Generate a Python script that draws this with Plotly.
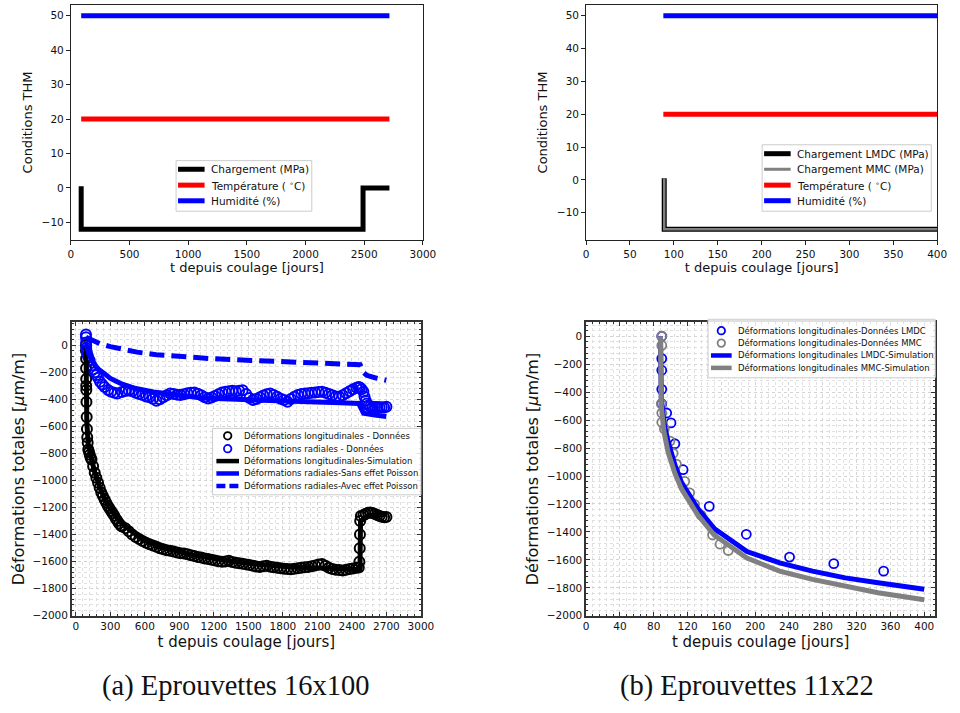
import plotly.graph_objects as go

# ---------------- (a) Eprouvettes 16x100 : THM conditions ----------------
t_load_a = [88, 88, 2490, 2490, 2715]
load_a = [0.5, -12, -12, 0, 0]
t_env_a = [88, 2715]
temp_a = [20, 20]
hum_a = [50, 50]

# ---------------- (b) Eprouvettes 11x22 : THM conditions ----------------
t_load_b = [89, 89, 400]
load_lmdc_b = [0.5, -15, -15]
load_mmc_b = [0.5, -15, -15]
t_env_b = [88, 400]
temp_b = [20, 20]
hum_b = [50, 50]

# ---------------- (a) deformations ----------------
t_long_data_a = [88, 88, 89, 89, 90, 90, 91, 92, 94, 96, 99, 103, 108, 114, 121, 128, 136,
                 150, 164, 178, 193, 207, 221, 235, 250, 264, 278, 292, 306, 320, 334, 348, 362,
                 376, 391,
                 400, 430, 460, 490, 520, 550, 580, 610, 640, 670, 700, 730, 760, 790, 820, 850,
                 880, 910, 940, 970, 1000, 1030, 1060, 1090, 1120, 1150, 1180, 1210, 1240, 1270,
                 1300, 1330, 1360, 1390, 1420, 1450, 1480, 1510, 1540, 1570, 1600, 1630, 1660,
                 1690, 1720, 1750, 1780, 1810, 1840, 1870, 1900, 1930, 1960, 1990, 2020, 2050,
                 2080, 2110, 2140, 2170, 2200, 2230, 2260, 2290, 2320, 2350, 2380, 2410, 2440,
                 2460, 2465, 2468, 2470, 2472, 2478, 2500, 2520, 2540, 2560, 2580, 2600, 2620,
                 2640, 2660, 2680, 2700]
v_long_data_a = [0, -40, -100, -170, -250, -300, -330, -420, -530, -620, -680, -720, -770, -790,
                 -810, -830, -845, -895, -943, -980, -1016, -1053, -1089, -1115, -1140, -1165,
                 -1187, -1205, -1225, -1242, -1260, -1282, -1300, -1318, -1333,
                 -1340, -1352, -1375, -1400, -1418, -1432, -1448, -1460, -1472, -1480, -1490,
                 -1500, -1508, -1515, -1520, -1525, -1532, -1538, -1540, -1546, -1552, -1558,
                 -1565, -1570, -1576, -1580, -1586, -1592, -1596, -1600, -1598, -1594, -1602,
                 -1608, -1612, -1616, -1620, -1624, -1630, -1636, -1640, -1634, -1630, -1638,
                 -1642, -1645, -1648, -1652, -1655, -1656, -1652, -1648, -1645, -1642, -1640,
                 -1634, -1628, -1620, -1618, -1630, -1645, -1655, -1660, -1662, -1665, -1660,
                 -1655, -1650, -1645, -1643, -1600, -1500, -1400, -1300, -1262, -1255, -1245,
                 -1238, -1236, -1240, -1248, -1255, -1262, -1268, -1272, -1270]

t_rad_data_a = [88, 88, 89, 90, 95, 105, 120, 136, 150, 165, 180, 193, 210, 230, 249, 280, 306,
                335, 362,
                400, 430, 460, 490, 520, 550, 580, 610, 640, 670, 700, 730, 760, 790, 820, 850,
                880, 910, 940, 970, 1000, 1030, 1060, 1090, 1120, 1150, 1180, 1210, 1240, 1270,
                1300, 1330, 1360, 1390, 1420, 1450, 1480, 1510, 1540, 1570, 1600, 1630, 1660,
                1690, 1720, 1750, 1780, 1810, 1840, 1870, 1900, 1930, 1960, 1990, 2020, 2050,
                2080, 2110, 2140, 2170, 2200, 2230, 2260, 2290, 2320, 2350, 2380, 2410, 2440,
                2458, 2470, 2485, 2500, 2510, 2520, 2530, 2545, 2560, 2580, 2600, 2620, 2640,
                2660, 2680, 2700]
v_rad_data_a = [80, 60, 20, -20, -50, -80, -110, -150, -180, -200, -220, -240, -270, -290, -308,
                -330, -344, -352, -356,
                -345, -338, -335, -340, -352, -360, -368, -378, -385, -395, -410, -400, -385,
                -370, -356, -360, -365, -368, -362, -355, -352, -349, -358, -370, -385, -393,
                -386, -375, -362, -350, -344, -340, -337, -340, -336, -332, -360, -390, -405,
                -398, -385, -372, -362, -356, -368, -380, -395, -405, -417, -398, -380, -368,
                -360, -356, -354, -352, -349, -346, -344, -352, -360, -370, -378, -381, -370,
                -355, -340, -325, -315, -308, -312, -325, -344, -380, -410, -430, -445, -452,
                -455, -456, -457, -458, -459, -461, -455]

t_long_sim_a = [88, 88.5, 95, 108, 136, 164, 221, 278, 334, 391, 476, 589, 731, 1013, 1297,
                1580, 1864, 2118, 2317, 2470, 2475, 2550, 2700]
v_long_sim_a = [0, -300, -560, -740, -850, -940, -1080, -1180, -1250, -1310, -1370, -1440,
                -1490, -1550, -1590, -1620, -1640, -1650, -1655, -1658, -1300, -1260, -1250]

t_rad_sans_a = [88, 110, 150, 200, 249, 300, 391, 500, 674, 900, 1099, 1400, 1665, 2000, 2300,
                2458, 2480, 2501, 2600, 2699]
v_rad_sans_a = [10, -60, -130, -180, -210, -245, -283, -315, -345, -370, -390, -400, -410,
                -418, -425, -430, -470, -503, -515, -527]

t_rad_avec_a = [88, 150, 207, 300, 400, 532, 700, 957, 1200, 1524, 1800, 2090, 2300, 2472, 2500,
                2529, 2600, 2699]
v_rad_avec_a = [60, 30, 12, -10, -30, -51, -70, -88, -100, -112, -121, -129, -136, -144, -200,
                -222, -240, -259]

# ---------------- (b) deformations ----------------
t_lmdc_data_b = [89.5, 89.5, 89.5, 89.5, 89.5, 95.3, 100.4, 105, 114.7, 145.7, 189.5, 240.7, 293, 352]
v_lmdc_data_b = [0, -160, -243, -380, -483, -549, -620, -769, -955, -1217, -1417, -1580, -1627, -1681]

t_mmc_data_b = [89.5, 89.5, 89, 89.5, 89.5, 92.6, 99.2, 103, 106.8, 116.7, 122.5, 128.3, 136,
                149.6, 158.5, 168.2]
v_mmc_data_b = [0, -66, -483, -549, -616, -663, -750, -837, -915, -1038, -1120, -1203, -1280,
                -1422, -1488, -1533]

t_lmdc_sim_b = [88, 89, 92, 97.3, 105, 112.8, 132.2, 151.5, 190.3, 229, 267.8, 306.6, 345.3, 400]
v_lmdc_sim_b = [0, -450, -620, -762, -920, -1045, -1233, -1375, -1540, -1622, -1681, -1729,
                -1764, -1810]

t_mmc_sim_b = [88, 89, 92, 97, 105, 112.8, 132.2, 151.5, 190.3, 229, 267.8, 306.6, 345.3, 400]
v_mmc_sim_b = [0, -500, -680, -830, -980, -1092, -1280, -1422, -1587, -1681, -1740, -1788,
               -1835, -1885]

# legend labels
names_a_top = ["Chargement (MPa)", "Température ( <sup>∘</sup>C)", "Humidité (%)"]
names_b_top = ["Chargement LMDC (MPa)", "Chargement MMC (MPa)", "Température ( <sup>∘</sup>C)",
               "Humidité (%)"]
names_a_bot = ["Déformations longitudinales - Données", "Déformations radiales - Données",
               "Déformations longitudinales-Simulation", "Déformations radiales-Sans effet Poisson",
               "Déformations radiales-Avec effet Poisson"]
names_b_bot = ["Déformations longitudinales-Données LMDC", "Déformations longitudinales-Données MMC",
               "Déformations longitudinales LMDC-Simulation", "Déformations longitudinales MMC-Simulation"]

BLUE = "#0000ff"
RED = "#ff0000"
GRAY = "#808080"
BLACK = "#000000"
FONT = "DejaVu Sans"

# reference frame in pixels (the figure fills the whole window)
W, H = 960, 713


def px(x):
    return x / W


def py(y):
    return 1 - y / H


fig = go.Figure()


def line_trace(x, y, color, width, name, ax, dash="solid"):
    fig.add_trace(go.Scatter(x=x, y=y, mode="lines", line=dict(color=color, width=width, dash=dash),
                             name=name, showlegend=False, xaxis="x" + ax, yaxis="y" + ax))


def marker_trace(x, y, color, size, lw, name, ax):
    fig.add_trace(go.Scatter(x=x, y=y, mode="markers",
                             marker=dict(symbol="circle-open", size=size, color=color,
                                         line=dict(width=lw)),
                             name=name, showlegend=False, xaxis="x" + ax, yaxis="y" + ax))


# ---- top-left
line_trace(t_load_a, load_a, BLACK, 5, names_a_top[0], "")
line_trace(t_env_a, temp_a, RED, 5, names_a_top[1], "")
line_trace(t_env_a, hum_a, BLUE, 5, names_a_top[2], "")

# ---- top-right
line_trace(t_load_b, load_lmdc_b, BLACK, 5, names_b_top[0], "2")
line_trace(t_load_b, load_mmc_b, GRAY, 2.5, names_b_top[1], "2")
line_trace(t_env_b, temp_b, RED, 5, names_b_top[2], "2")
line_trace(t_env_b, hum_b, BLUE, 5, names_b_top[3], "2")

# ---- bottom-left
marker_trace(t_long_data_a, v_long_data_a, BLACK, 10, 2, names_a_bot[0], "3")
marker_trace(t_rad_data_a, v_rad_data_a, BLUE, 10, 2, names_a_bot[1], "3")
line_trace(t_long_sim_a, v_long_sim_a, BLACK, 5, names_a_bot[2], "3")
line_trace(t_rad_sans_a, v_rad_sans_a, BLUE, 5, names_a_bot[3], "3")
line_trace(t_rad_avec_a, v_rad_avec_a, BLUE, 5, names_a_bot[4], "3", dash="15px,7px")

# ---- bottom-right
marker_trace(t_lmdc_data_b, v_lmdc_data_b, BLUE, 9, 1.8, names_b_bot[0], "4")
marker_trace(t_mmc_data_b, v_mmc_data_b, GRAY, 9, 1.8, names_b_bot[1], "4")
line_trace(t_lmdc_sim_b, v_lmdc_sim_b, BLUE, 5, names_b_bot[2], "4")
line_trace(t_mmc_sim_b, v_mmc_sim_b, GRAY, 5, names_b_bot[3], "4")

# ---- compact legends (box, samples and real text), matplotlib-like spacing
shapes = []
annotations = []


def compact_legend(box, rows, sample_x, text_x, font_size):
    x0, y0, x1, y1 = box
    shapes.append(dict(type="rect", xref="paper", yref="paper", x0=px(x0), x1=px(x1),
                       y0=py(y1), y1=py(y0), fillcolor="rgba(255,255,255,0.85)",
                       line=dict(color="#cccccc", width=1), layer="above"))
    for yc, kind, color, width, dash, label in rows:
        if kind == "marker":
            r = 3.8
            cx = (sample_x[0] + sample_x[1]) / 2
            shapes.append(dict(type="circle", xref="paper", yref="paper",
                               x0=px(cx - r), x1=px(cx + r), y0=py(yc + r), y1=py(yc - r),
                               line=dict(color=color, width=width), fillcolor="rgba(0,0,0,0)",
                               layer="above"))
        else:
            shapes.append(dict(type="line", xref="paper", yref="paper",
                               x0=px(sample_x[0]), x1=px(sample_x[1]), y0=py(yc), y1=py(yc),
                               line=dict(color=color, width=width, dash=dash), layer="above"))
        annotations.append(dict(text=label, x=px(text_x), y=py(yc), xref="paper", yref="paper",
                                showarrow=False, xanchor="left", yanchor="middle",
                                font=dict(family=FONT, size=font_size, color="#111")))


compact_legend((176, 162, 314, 213),
               [(170.7, "line", BLACK, 5, "solid", names_a_top[0]),
                (186.7, "line", RED, 5, "solid", names_a_top[1]),
                (202.5, "line", BLUE, 5, "solid", names_a_top[2])],
               (178, 205), 209, 10.5)
compact_legend((772, 146, 944, 213),
               [(155.0, "line", BLACK, 5, "solid", names_b_top[0]),
                (170.7, "line", GRAY, 3, "solid", names_b_top[1]),
                (186.7, "line", RED, 5, "solid", names_b_top[2]),
                (202.4, "line", BLUE, 5, "solid", names_b_top[3])],
               (774, 801), 805, 10.5)
compact_legend((213, 432, 425, 499),
               [(439.5, "marker", BLACK, 1.8, None, names_a_bot[0]),
                (452.5, "marker", BLUE, 1.8, None, names_a_bot[1]),
                (465.0, "line", BLACK, 4.5, "solid", names_a_bot[2]),
                (477.5, "line", BLUE, 4.5, "solid", names_a_bot[3]),
                (490.0, "line", BLUE, 4.5, "9px,4px", names_a_bot[4])],
               (217, 240), 243, 8.5)
compact_legend((717, 322, 948, 381),
               [(333.5, "marker", BLUE, 1.8, None, names_b_bot[0]),
                (346.0, "marker", GRAY, 1.8, None, names_b_bot[1]),
                (358.5, "line", BLUE, 4.5, "solid", names_b_bot[2]),
                (371.0, "line", GRAY, 4.5, "solid", names_b_bot[3])],
               (720, 741), 745, 8.5)

annotations += [
    dict(text="(a) Eprouvettes 16x100", x=px(237), y=py(692), xref="paper", yref="paper",
         showarrow=False, xanchor="center", yanchor="middle",
         font=dict(family="Liberation Serif", size=28.5, color="#111")),
    dict(text="(b) Eprouvettes 11x22", x=px(757), y=py(692), xref="paper", yref="paper",
         showarrow=False, xanchor="center", yanchor="middle",
         font=dict(family="Liberation Serif", size=28.5, color="#111")),
]

top_axis = dict(showline=True, linecolor="#222", linewidth=1, mirror=True, ticks="outside",
                ticklen=4, tickcolor="#222", showgrid=False, zeroline=False,
                tickfont=dict(family=FONT, size=10.5, color="#111"))
bot_axis = dict(showline=True, linecolor="#333", linewidth=1.5, mirror="allticks", ticks="inside",
                ticklen=4, tickcolor="#333", showgrid=True, gridcolor="#d4d4d4", griddash="dot",
                gridwidth=1, zeroline=False, tickfont=dict(family=FONT, size=10.5, color="#111"))

title_top = dict(family=FONT, size=13, color="#111")
title_bot_x = dict(family=FONT, size=15, color="#111")
title_bot_y = dict(family=FONT, size=16, color="#111")
minor_style = dict(ticks="inside", ticklen=2, tickcolor="#333", showgrid=True,
                   gridcolor="#e0e0e0", griddash="dot")

fig.update_layout(
    autosize=True, margin=dict(l=0, r=0, t=0, b=0),
    paper_bgcolor="white", plot_bgcolor="white", showlegend=False,
    font=dict(family=FONT, color="#111"),
    xaxis=dict(top_axis, domain=[px(69), px(427)], range=[0, 3000], dtick=500, anchor="y",
               title=dict(text="t depuis coulage [jours]", font=title_top, standoff=4)),
    yaxis=dict(top_axis, domain=[py(242), py(5)], range=[-15.1, 53.1], dtick=10, anchor="x",
               title=dict(text="Conditions THM", font=title_top, standoff=6)),
    xaxis2=dict(top_axis, domain=[px(593), px(950)], range=[0, 400], dtick=50, anchor="y2",
                title=dict(text="t depuis coulage [jours]", font=title_top, standoff=4)),
    yaxis2=dict(top_axis, domain=[py(242), py(5)], range=[-18.3, 53.3], dtick=10, anchor="x2",
                title=dict(text="Conditions THM", font=title_top, standoff=6)),
    xaxis3=dict(bot_axis, domain=[px(70), px(425)], range=[-35, 3000], dtick=300, tick0=0,
                anchor="y3", minor=dict(minor_style, dtick=60),
                title=dict(text="t depuis coulage [jours]", font=title_bot_x, standoff=5)),
    yaxis3=dict(bot_axis, domain=[py(621), py(325)], range=[-2000, 170], dtick=200, tick0=0,
                anchor="x3", minor=dict(minor_style, dtick=40),
                title=dict(text="Déformations totales [<i>μ</i>m/m]", font=title_bot_y, standoff=4)),
    xaxis4=dict(bot_axis, domain=[px(593), px(948)], range=[0, 413], dtick=40, tick0=0,
                anchor="y4", minor=dict(minor_style, dtick=8),
                title=dict(text="t depuis coulage [jours]", font=title_bot_x, standoff=5)),
    yaxis4=dict(bot_axis, domain=[py(621), py(325)], range=[-2000, 100], dtick=200, tick0=0,
                anchor="x4", minor=dict(minor_style, dtick=40),
                title=dict(text="Déformations totales [<i>μ</i>m/m]", font=title_bot_y, standoff=4)),
    shapes=shapes,
    annotations=annotations,
)

# The figure fills the browser window: full viewport size, page margin removed.
fig.write_html("out.html", default_width="100vw", default_height="100vh",
               config={"displayModeBar": False, "responsive": True},
               post_script="document.body.style.margin='0px';"
                           "document.body.style.overflow='hidden';")
